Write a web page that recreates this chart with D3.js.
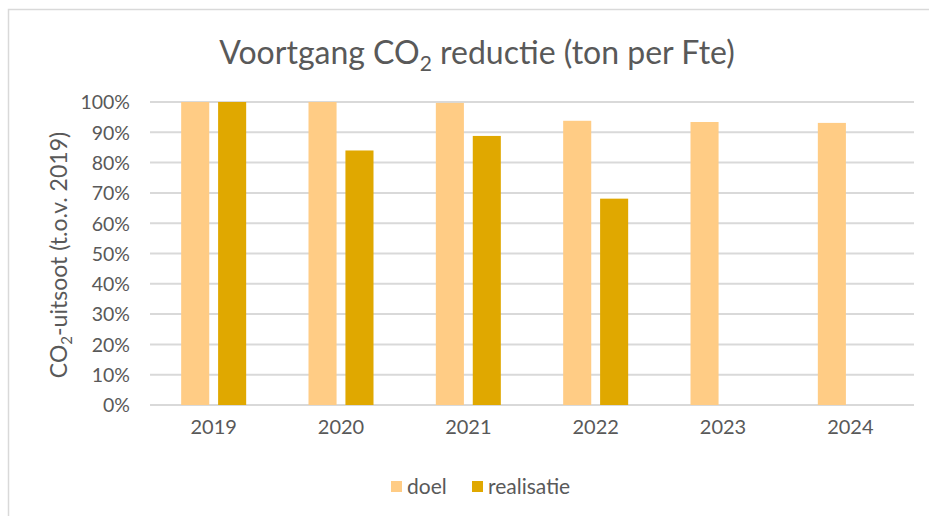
<!DOCTYPE html>
<html>
<head>
<meta charset="utf-8">
<script src="https://cdn.jsdelivr.net/npm/d3@7"></script>
<style>
  body { margin: 0; background: #fff; }
  text { font-family: Lato, "Open Sans", sans-serif; fill: #595959; }
</style>
</head>
<body>
<svg id="chart"></svg>
<script>
const years = ["2019", "2020", "2021", "2022", "2023", "2024"];
const doel = [1.00, 1.00, 0.997, 0.938, 0.934, 0.931];
const realisatie = [1.00, 0.840, 0.888, 0.681, null, null];
const yTicks = [0, 0.1, 0.2, 0.3, 0.4, 0.5, 0.6, 0.7, 0.8, 0.9, 1.0];
const seriesNames = ["doel", "realisatie"];
const colors = { doel: "#FFCC85", realisatie: "#E0A800" };

const width = 929, height = 516;
const svg = d3.select("#chart").attr("width", width).attr("height", height);

// chart frame (cropped on right/bottom like the original)
svg.append("rect")
    .attr("x", 8.5).attr("y", 9.5)
    .attr("width", 960).attr("height", 540)
    .attr("fill", "#fff")
    .attr("stroke", "#d9d9d9")
    .attr("stroke-width", 1.5);

const rows = years.map((y, i) => ({ year: y, doel: doel[i], realisatie: realisatie[i] }));

const x0 = d3.scaleBand().domain(years).range([150, 914]).padding(0);
const x1 = d3.scaleBand().domain(seriesNames)
    .range([x0.bandwidth() / 2 - 32.5, x0.bandwidth() / 2 + 32.5])
    .paddingInner(0.24);
const y = d3.scaleLinear().domain([0, 1]).range([405, 102]);

// gridlines
svg.append("g")
    .selectAll("line")
    .data(yTicks)
    .join("line")
    .attr("x1", 150).attr("x2", 914)
    .attr("y1", d => y(d)).attr("y2", d => y(d))
    .attr("stroke", "#d9d9d9")
    .attr("stroke-width", 2);

// y axis labels
const yAxis = svg.append("g")
    .attr("transform", "translate(140,0)")
    .call(d3.axisLeft(y).tickValues(yTicks).tickFormat(d3.format(".0%")).tickSize(0).tickPadding(10));
yAxis.select(".domain").remove();
yAxis.selectAll("text").style("font-size", "19.5px").attr("fill", "#595959").attr("dy", "0.35em");

// x axis labels
const xAxis = svg.append("g")
    .attr("transform", "translate(0,405)")
    .call(d3.axisBottom(x0).tickSize(0).tickPadding(15));
xAxis.select(".domain").remove();
xAxis.selectAll("text").style("font-size", "20px").attr("fill", "#595959");

// bars
const groups = svg.append("g")
    .selectAll("g")
    .data(rows)
    .join("g")
    .attr("transform", d => `translate(${x0(d.year)},0)`);

groups.selectAll("rect")
    .data(d => seriesNames.filter(k => d[k] != null).map(k => ({ key: k, value: d[k] })))
    .join("rect")
    .attr("x", d => x1(d.key))
    .attr("width", x1.bandwidth())
    .attr("y", d => y(d.value))
    .attr("height", d => y(0) - y(d.value))
    .attr("fill", d => colors[d.key]);

// title
const title = svg.append("text")
    .attr("x", 477).attr("y", 64)
    .attr("text-anchor", "middle")
    .style("font-size", "32px");
title.append("tspan").text("Voortgang CO");
title.append("tspan").attr("dy", 7).style("font-size", "21px").text("2");
title.append("tspan").attr("dy", -7).text(" reductie (ton per Fte)");

// y axis title
const yTitle = svg.append("text")
    .attr("transform", "translate(67,255) rotate(-90)")
    .attr("text-anchor", "middle")
    .style("font-size", "23px");
yTitle.append("tspan").text("CO");
yTitle.append("tspan").attr("dy", 5).style("font-size", "15px").text("2");
yTitle.append("tspan").attr("dy", -5).text("-uitsoot (t.o.v. 2019)");

// legend
const legend = svg.append("g").attr("transform", "translate(391,481)");
const legendX = [0, 81];
seriesNames.forEach((k, i) => {
    legend.append("rect")
        .attr("x", legendX[i]).attr("y", 0)
        .attr("width", 11).attr("height", 11)
        .attr("fill", colors[k]);
    legend.append("text")
        .attr("x", legendX[i] + 16).attr("y", 13)
        .style("font-size", "21px")
        .text(k);
});
</script>
</body>
</html>
